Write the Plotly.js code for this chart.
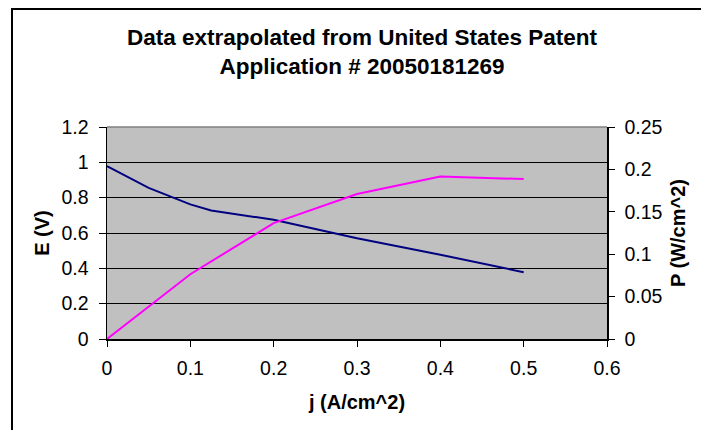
<!DOCTYPE html>
<html>
<head>
<meta charset="utf-8">
<script src="https://cdn.plot.ly/plotly-3.0.1.min.js"></script>
<style>
  html, body { margin: 0; padding: 0; background: #ffffff; }
  #chart { position: absolute; left: 0; top: 0; width: 701px; height: 430px; }
  #frame { position: absolute; left: 11px; top: 8px; width: 720px; height: 460px;
           border-left: 2px solid #000; border-top: 2px solid #000; pointer-events: none; }
</style>
</head>
<body>
<div id="chart"></div>
<div id="frame"></div>
<script>
// Cell voltage E (V) versus current density j (A/cm^2)
const jVoltage = [0, 0.05, 0.1, 0.125, 0.2, 0.3, 0.35, 0.4, 0.5];
const eVolts   = [0.978, 0.855, 0.762, 0.727, 0.675, 0.570, 0.523, 0.477, 0.378];

// Power density P (W/cm^2) versus current density j (A/cm^2)
const jPower  = [0, 0.1, 0.2, 0.3, 0.4, 0.5];
const pWatts  = [0, 0.0764, 0.1366, 0.171, 0.1917, 0.1886];

const FONT = 'Liberation Sans, Arial, sans-serif';

const traces = [
  {
    x: jVoltage, y: eVolts, name: 'E', type: 'scatter', mode: 'lines',
    line: { color: '#000080', width: 2 }, yaxis: 'y', hoverinfo: 'x+y'
  },
  {
    x: jPower, y: pWatts, name: 'P', type: 'scatter', mode: 'lines',
    line: { color: '#ff00ff', width: 2 }, yaxis: 'y2', hoverinfo: 'x+y'
  }
];

const tickFont = { family: FONT, size: 19.5, color: '#000' };
const axTitleFont = { family: FONT, size: 20, color: '#000', weight: 'bold' };

const layout = {
  width: 701, height: 430,
  margin: { l: 107, r: 94, t: 127, b: 91, pad: 0 },
  paper_bgcolor: '#ffffff',
  plot_bgcolor: '#c0c0c0',
  showlegend: false,
  font: { family: FONT, color: '#000' },
  title: {
    text: 'Data extrapolated from United States Patent<br>Application # 20050181269',
    font: { family: FONT, size: 22.5, color: '#000', weight: 'bold' },
    xref: 'container', x: 362 / 701, xanchor: 'center',
    yref: 'container', y: 1 - 45 / 430, yanchor: 'top'
  },
  xaxis: {
    range: [0, 0.6], dtick: 0.1, tick0: 0,
    showgrid: false, zeroline: false,
    showline: true, linecolor: '#000', linewidth: 1.5,
    ticks: 'outside', ticklen: 6, tickcolor: '#000', tickwidth: 1,
    tickfont: tickFont, ticklabelstandoff: 5,
    title: { text: 'j (A/cm^2)', font: axTitleFont, standoff: 17 }
  },
  yaxis: {
    range: [0, 1.2], dtick: 0.2, tick0: 0,
    showgrid: true, gridcolor: '#000', gridwidth: 1,
    zeroline: false,
    showline: true, linecolor: '#000', linewidth: 1.5,
    ticks: 'outside', ticklen: 7, tickcolor: '#000', tickwidth: 1,
    tickfont: tickFont, ticklabelstandoff: 6,
    title: { text: 'E (V)', font: axTitleFont, standoff: 6 }
  },
  yaxis2: {
    range: [0, 0.25], dtick: 0.05, tick0: 0,
    overlaying: 'y', side: 'right', anchor: 'x',
    showgrid: false, zeroline: false,
    showline: true, linecolor: '#000', linewidth: 1.5,
    ticks: 'outside', ticklen: 6, tickcolor: '#000', tickwidth: 1,
    tickfont: tickFont, ticklabelstandoff: 6,
    title: { text: 'P (W/cm^2)', font: axTitleFont, standoff: 9 }
  },
  // inner half of the crossing tick marks on the power axis
  yaxis3: {
    range: [0, 0.25], dtick: 0.05, tick0: 0,
    overlaying: 'y', side: 'right', anchor: 'x',
    showgrid: false, zeroline: false, showline: false,
    ticks: 'inside', ticklen: 6, tickcolor: '#000', tickwidth: 1,
    showticklabels: false
  },
  shapes: [
    // grey border along the top of the plot area
    { type: 'line', xref: 'paper', yref: 'paper', x0: 0, x1: 1, y0: 1, y1: 1,
      line: { color: '#808080', width: 1.5 } }
  ]
};

Plotly.newPlot('chart', traces, layout, { displayModeBar: false, staticPlot: true });
</script>
</body>
</html>
